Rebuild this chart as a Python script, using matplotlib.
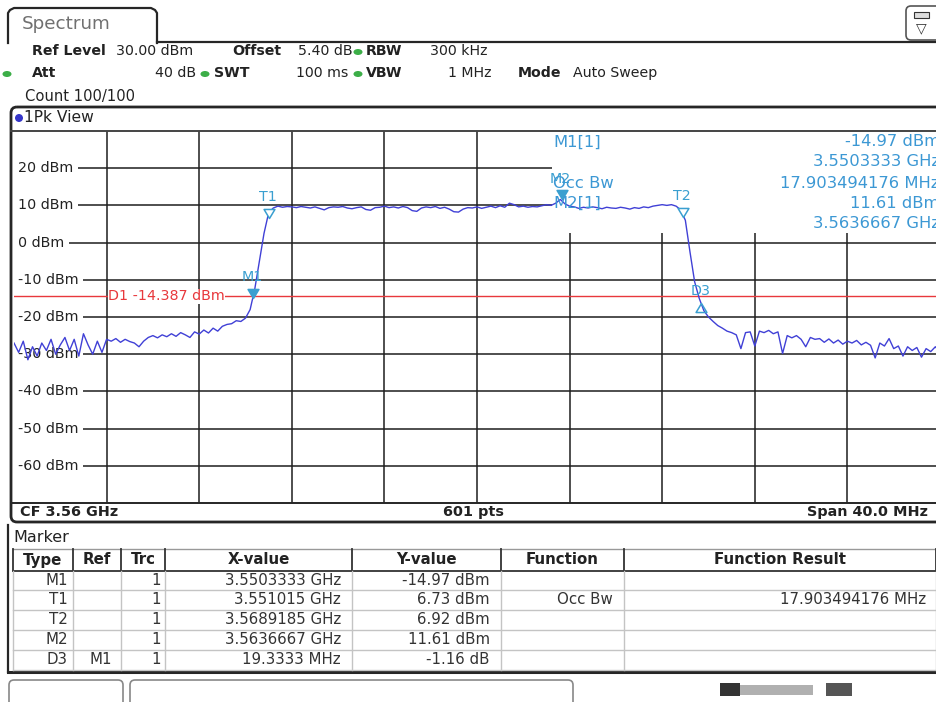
import numpy as np
import matplotlib.pyplot as plt
from matplotlib.patches import Rectangle, FancyBboxPatch, Ellipse, Circle
from matplotlib.path import Path
from matplotlib.transforms import blended_transform_factory

plt.rcParams['font.family'] = ['DejaVu Sans']

W, H = 937, 702

# sweep: CF 3.56 GHz, span 40 MHz, ref level 30 dBm, 10 dB/div
f_start, f_stop = 3.540, 3.580
ref_level, bottom_level = 30, -70
step_mhz = 0.2

# trace 1 (1Pk View), every 0.2 MHz [dBm]
trace_dbm = [
    # 0.0 - 4.0 MHz
    -27.0, -29.5, -26.5, -31.5, -28.0, -30.5, -27.0, -29.0, -26.0, -30.0,
    -27.5, -25.5, -29.0, -26.0, -30.5, -24.5, -27.5, -30.0, -26.5, -29.5, -26.0,
    # 4.2 - 10.0 MHz
    -26.5, -25.8, -26.8, -26.0, -26.6, -27.0, -28.0, -26.5, -25.5, -25.0,
    -25.6, -24.8, -25.3, -24.5, -25.2, -24.2, -24.8, -25.5, -24.0, -24.6,
    -23.5, -24.3, -23.0, -23.8, -22.5, -22.0, -21.8, -21.0, -21.2, -20.3,
    # 10.2 - 11.0 MHz (rising edge)
    -18.0, -12.5, -5.0, 2.5, 8.0,
    # 11.2 - 28.6 MHz (channel)
    9.3, 9.8, 9.5, 9.7, 9.6, 9.4, 9.7, 9.5, 9.3, 9.6,
    9.2, 8.8, 9.4, 9.6, 9.5, 9.7, 9.3, 9.1, 9.4, 9.6,
    8.9, 8.7, 9.4, 9.5, 9.8, 9.4, 9.6, 9.3, 9.7, 9.4,
    8.6, 8.4, 9.3, 9.6, 9.4, 9.7, 9.2, 9.5, 9.0, 8.3,
    8.2, 9.0, 9.4, 9.3, 9.6, 9.2, 9.5, 9.8, 9.4, 9.9,
    9.5, 10.6, 10.2, 9.6, 9.8, 9.5, 9.7, 9.6, 9.9, 10.2,
    10.0, 10.6, 11.6, 10.4, 9.8, 9.6, 9.2, 9.5, 9.3, 9.6,
    9.4, 9.1, 9.5, 9.3, 9.2, 9.5, 9.3, 9.0, 9.4, 9.2,
    9.6, 9.4, 9.8, 10.0, 10.2, 10.0, 10.2, 9.8,
    # 28.8 - 30.4 MHz (falling edge)
    8.8, 6.0, -2.5, -10.5, -15.0, -18.3, -20.0, -21.2, -22.3,
    # 30.6 - 40.0 MHz
    -23.0, -23.8, -24.2, -24.8, -28.5, -24.2, -24.0, -27.8, -23.8, -24.2,
    -23.6, -24.5, -24.0, -29.8, -25.0, -25.6, -25.0, -26.0, -28.0, -25.5,
    -26.0, -25.8, -26.8, -25.9, -27.0, -26.2, -27.3, -26.5, -27.0, -26.3,
    -27.5, -26.8, -27.6, -31.0, -27.0, -27.8, -25.8, -28.5, -27.8, -30.5,
    -28.0, -29.0, -28.2, -30.8, -28.5, -29.3, -28.0, -29.5,
]
freq = f_start + np.arange(len(trace_dbm)) * step_mhz / 1000.0

level_ticks = [20, 10, 0, -10, -20, -30, -40, -50, -60]
d1_level = -14.387

# marker table
mk_type = ['M1', 'T1', 'T2', 'M2', 'D3']
mk_ref = ['', '', '', '', 'M1']
mk_trc = ['1', '1', '1', '1', '1']
mk_xval = ['3.5503333 GHz', '3.551015 GHz', '3.5689185 GHz', '3.5636667 GHz', '19.3333 MHz']
mk_yval = ['-14.97 dBm', '6.73 dBm', '6.92 dBm', '11.61 dBm', '-1.16 dB']
mk_func = ['', 'Occ Bw', '', '', '']
mk_result = ['', '17.903494176 MHz', '', '', '']
mk_freq = [3.5503333, 3.551015, 3.5689185, 3.5636667, 3.5503333 + 0.0193333]
mk_level = [-14.97, 6.73, 6.92, 11.61, -14.97 - 1.16]

trace_c = '#4040d6'
mk_c = '#3a9fd0'
info_c = '#3c98d4'
red_c = '#e8383c'
grid_c = '#1e1e1e'
dark = '#262626'
green = '#3cae48'
fs = 10.2
fs_b = 10.2

fig = plt.figure(figsize=(W / 100, H / 100), dpi=100)

# ---------------- spectrum area ----------------
sp = fig.add_axes([14 / W, 1 - 503 / H, 926 / W, 372 / H])
sp.set_xlim(f_start, f_stop)
sp.set_ylim(bottom_level, ref_level)
sp.axis('off')
for k in range(1, 10):
    sp.axvline(f_start + k * (f_stop - f_start) / 10, color=grid_c, lw=1.1, zorder=1)
for lv in level_ticks:
    sp.axhline(lv, color=grid_c, lw=1.1, zorder=1)

bt = blended_transform_factory(sp.transAxes, sp.transData)
for lv in level_ticks:
    sp.text(0.0045, lv, f'{lv} dBm', transform=bt, ha='left', va='center',
            fontsize=10.3, color='#222', zorder=2,
            bbox=dict(fc='white', ec='none', pad=3.0))

# marker info area hides the grid
sp.add_patch(Rectangle((0.581, 0.726), 0.45, 0.3, transform=sp.transAxes,
                       fc='white', ec='none', zorder=1.5))

sp.axhline(d1_level, color=red_c, lw=1.0, zorder=2.5)
sp.text(0.1015, d1_level, f'D1 {d1_level} dBm', transform=bt, ha='left', va='center',
        fontsize=10.3, color=red_c, zorder=2.6,
        bbox=dict(fc='white', ec='none', pad=0.3))

sp.plot(freq, trace_dbm, color=trace_c, lw=1.0, zorder=3)

tri_dn = Path([(0, 0), (-0.6, 1), (0.6, 1), (0, 0)],
              [Path.MOVETO, Path.LINETO, Path.LINETO, Path.CLOSEPOLY])
tri_up = Path([(0, 0), (-0.6, -1), (0.6, -1), (0, 0)],
              [Path.MOVETO, Path.LINETO, Path.LINETO, Path.CLOSEPOLY])
for name, f, lv in zip(mk_type, mk_freq, mk_level):
    if name.startswith('D'):
        sp.plot(f, lv, marker=tri_up, ms=13, mfc='none', mec=mk_c, mew=1.1, zorder=4)
        sp.annotate(name, (f, lv), xytext=(0, 3.5), textcoords='offset points',
                    ha='center', va='bottom', color=mk_c, fontsize=10.3, zorder=4)
    else:
        face = mk_c if name.startswith('M') else 'white'
        sp.plot(f, lv, marker=tri_dn, ms=13, mfc=face, mec=mk_c, mew=1.1, zorder=4)
        sp.annotate(name, (f, lv), xytext=(-1, 10), textcoords='offset points',
                    ha='center', va='bottom', color=mk_c, fontsize=10.3, zorder=4)

# ---------------- overlay (pixel coordinates) ----------------
ov = fig.add_axes([0, 0, 1, 1])
ov.set_xlim(0, W)
ov.set_ylim(H, 0)
ov.axis('off')


def txt(x, y, s, ha='left', bold=False, size=None, color='#222'):
    if size is None:
        size = fs_b if bold else fs
    ov.text(x, y, s, ha=ha, va='center', fontsize=size, color=color,
            fontweight='bold' if bold else 'normal')


def dot(x, y):
    ov.add_patch(Ellipse((x, y), 9, 6, fc=green, ec='none'))


# tab + header
ov.plot([8, 8, 10, 14, 151, 155, 157, 157], [43, 13, 10, 8, 8, 10, 13, 43], color=dark, lw=1.6)
ov.plot([157, W], [42, 42], color=dark, lw=1.6)
txt(22, 24, 'Spectrum', size=13.2, color='#707070')
ov.add_patch(FancyBboxPatch((906, 6), 40, 34, boxstyle='round,pad=0,rounding_size=5',
                            fc='white', ec='#555', lw=1.2))
ov.add_patch(Rectangle((914, 12), 15, 6, fc='#ddd', ec='#333', lw=0.8))
txt(921, 28, '\u25bd', ha='center', size=10, color='#333')

txt(32, 51, 'Ref Level', bold=True)
txt(116, 51, '30.00 dBm')
txt(232, 51, 'Offset', bold=True)
txt(298, 51, '5.40 dB')
dot(358, 52)
txt(366, 51, 'RBW', bold=True)
txt(430, 51, '300 kHz')
dot(7, 74)
txt(32, 73, 'Att', bold=True)
txt(196, 73, '40 dB', ha='right')
dot(205, 74)
txt(214, 73, 'SWT', bold=True)
txt(348, 73, '100 ms', ha='right')
dot(358, 74)
txt(366, 73, 'VBW', bold=True)
txt(492, 73, '1 MHz', ha='right')
txt(518, 73, 'Mode', bold=True)
txt(573, 73, 'Auto Sweep')
txt(25, 96, 'Count 100/100', size=10.6)

# diagram frame
ov.add_patch(FancyBboxPatch((11, 107), 960, 415, boxstyle='round,pad=0,rounding_size=6',
                            fc='none', ec=dark, lw=2.0))
ov.plot([11, W], [130.5, 130.5], color='#444', lw=1.4)
ov.plot([11, W], [502.5, 502.5], color=dark, lw=1.4)
ov.add_patch(Circle((19, 118), 4, fc='#3535c8', ec='none'))
txt(24, 118, '1Pk View', size=11.2)
txt(20, 512, 'CF 3.56 GHz', bold=True, size=10.4)
txt(473, 512, '601 pts', ha='center', bold=True, size=10.4)
txt(928, 512, 'Span 40.0 MHz', ha='right', bold=True, size=10.4)

# marker info in diagram
info_fs = 11.8
txt(553, 142, 'M1[1]', size=info_fs, color=info_c)
txt(553, 183, mk_func[1], size=info_fs, color=info_c)
txt(553, 203, 'M2[1]', size=info_fs, color=info_c)
info_right = [mk_yval[0], mk_xval[0], mk_result[1], mk_yval[3], mk_xval[3]]
for yy, s in zip([142, 161, 183, 203, 223], info_right):
    txt(940, yy, s, ha='right', size=info_fs, color=info_c)

# marker table
txt(13, 537, 'Marker', size=11.5)
ov.plot([8, 8], [525, 672], color=dark, lw=1.6)
ov.plot([8, W], [672, 672], color=dark, lw=2.2)
col_x = [13, 73, 121, 165, 352, 501, 624, 936]
head_y0, head_y1 = 549, 571
row_y = [571, 590, 610, 630, 650, 670]
ov.plot([13, 936], [head_y0, head_y0], color='#999', lw=1.0)
ov.plot([13, 936], [head_y1, head_y1], color='#333', lw=1.3)
for x in col_x:
    ov.plot([x, x], [head_y0, head_y1], color='#333', lw=1.3)
    ov.plot([x, x], [head_y1, row_y[-1]], color='#c4c4c4', lw=1.0)
for y in row_y[1:]:
    ov.plot([13, 936], [y, y], color='#c4c4c4', lw=1.0)
heads = ['Type', 'Ref', 'Trc', 'X-value', 'Y-value', 'Function', 'Function Result']
for i, h in enumerate(heads):
    txt((col_x[i] + col_x[i + 1]) / 2, 560, h, ha='center', bold=True, size=10.8)
right_x = [68, 112, 161, 341, 490, 613, 926]
cols = [mk_type, mk_ref, mk_trc, mk_xval, mk_yval, mk_func, mk_result]
for r in range(len(mk_type)):
    yc = (row_y[r] + row_y[r + 1]) / 2
    for c in range(len(cols)):
        txt(right_x[c], yc, cols[c][r], ha='right', size=10.8, color='#333')

# status bar
ov.add_patch(FancyBboxPatch((9, 680), 114, 40, boxstyle='round,pad=0,rounding_size=5',
                            fc='white', ec='#888', lw=1.2))
ov.add_patch(FancyBboxPatch((130, 680), 443, 40, boxstyle='round,pad=0,rounding_size=5',
                            fc='white', ec='#888', lw=1.2))
ov.add_patch(Rectangle((720, 683), 20, 13, fc='#333', ec='none'))
ov.add_patch(Rectangle((740, 685), 73, 10, fc='#b0b0b0', ec='none'))
ov.add_patch(Rectangle((826, 683), 26, 13, fc='#555', ec='none'))

fig.savefig('out.png', dpi=100)
